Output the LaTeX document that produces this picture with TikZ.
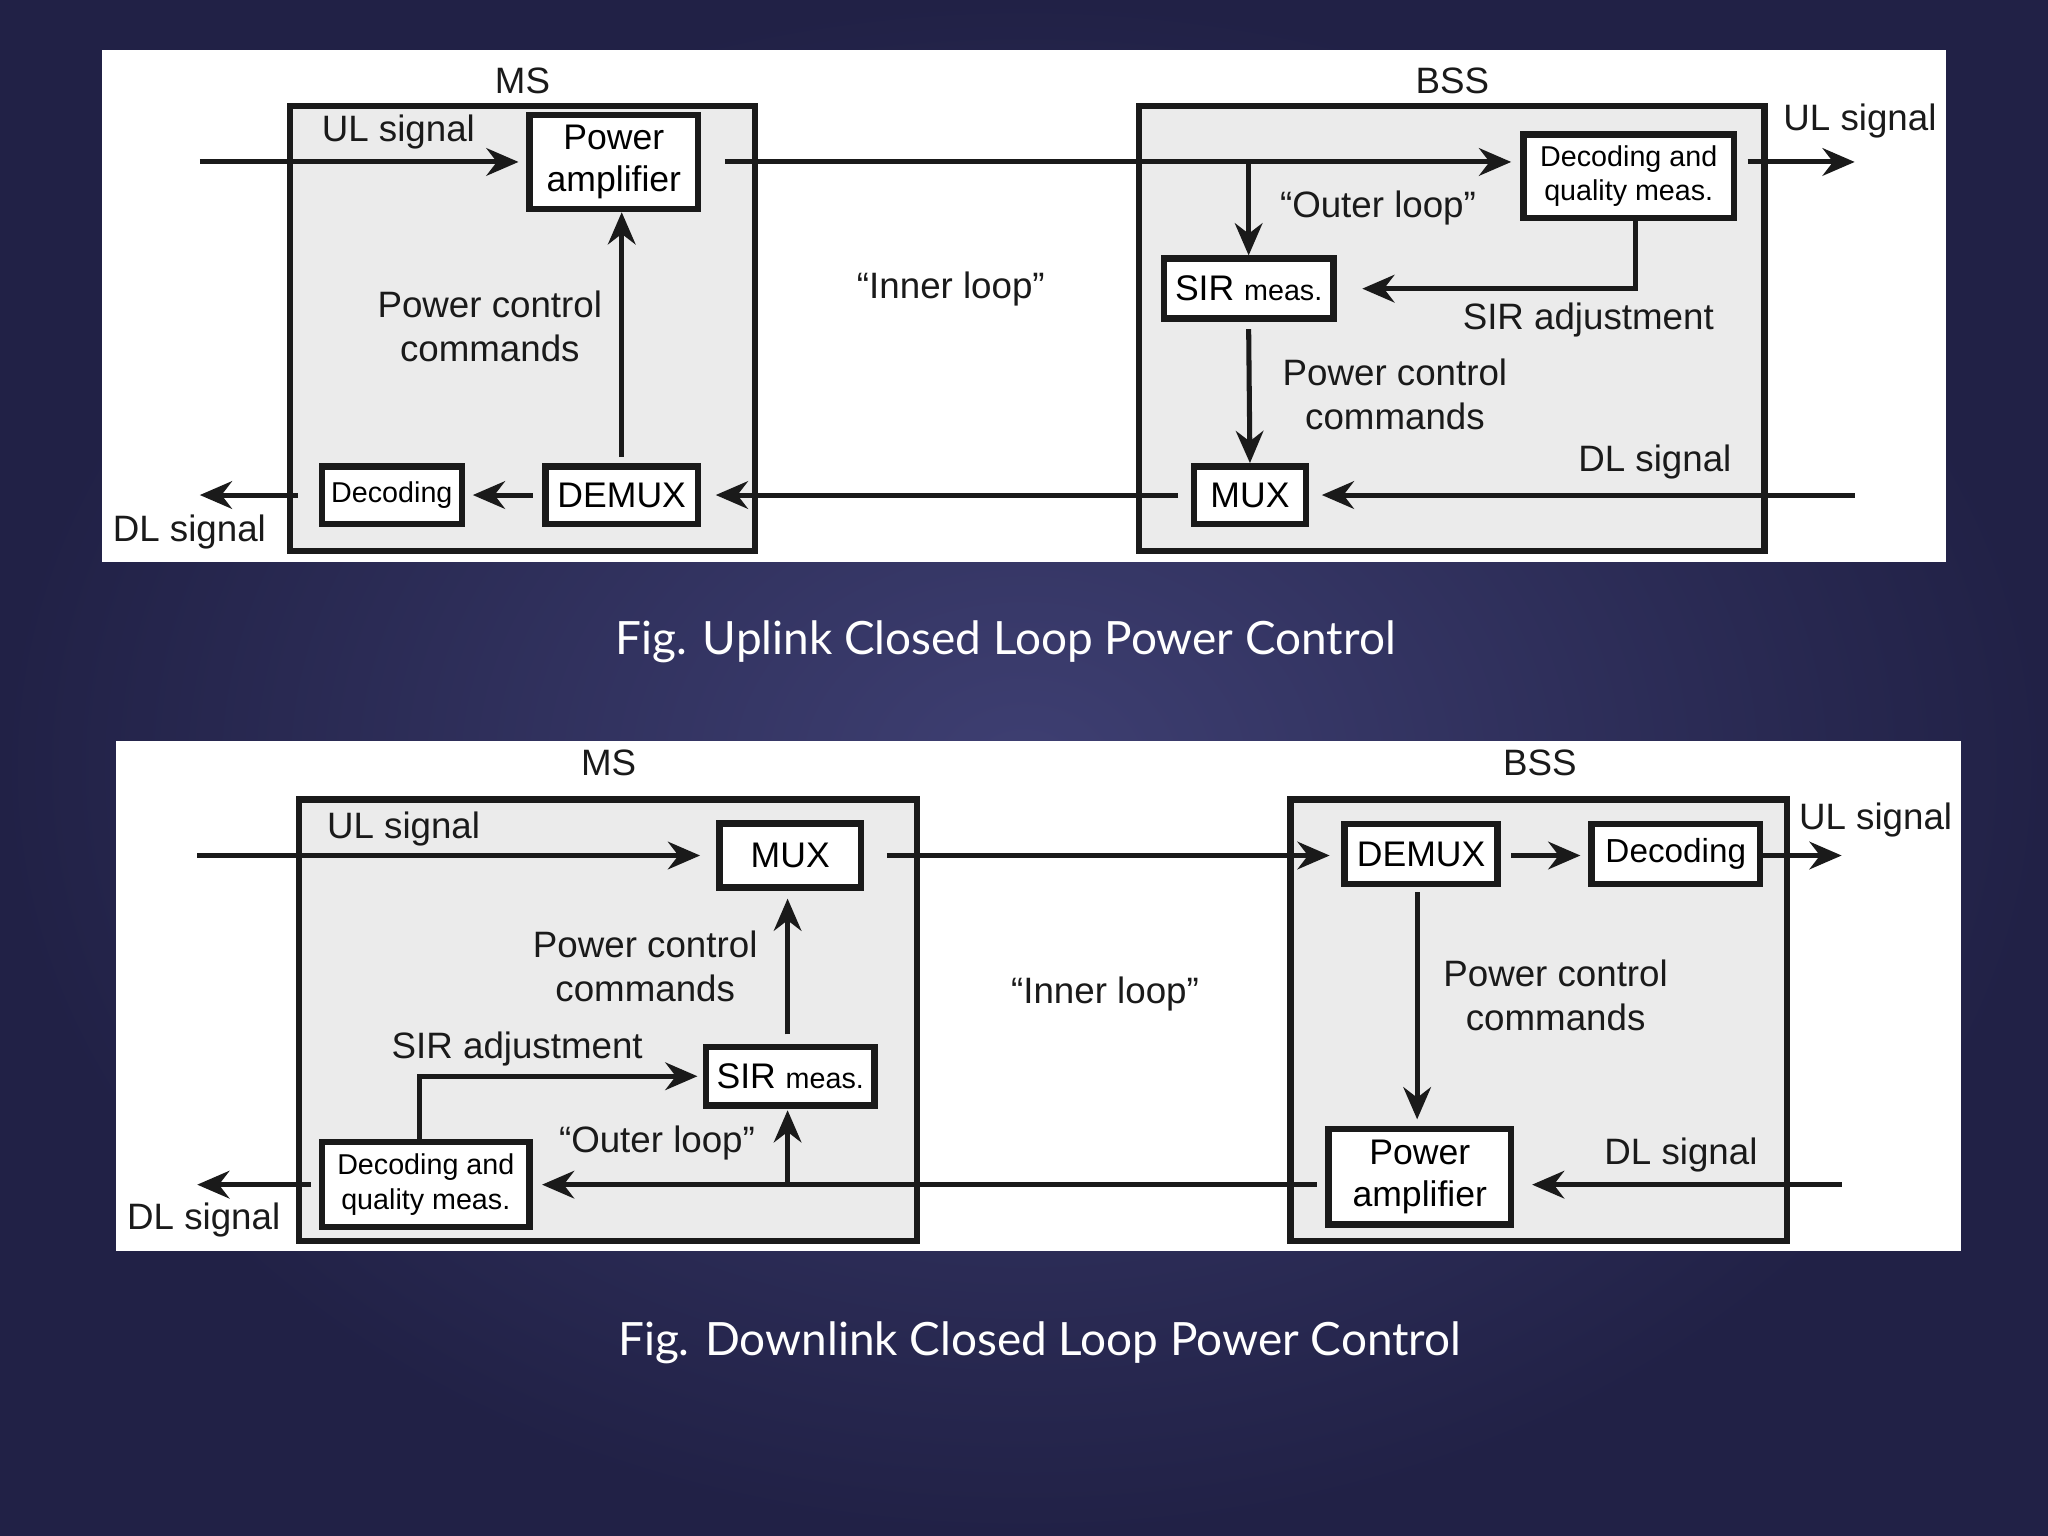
\documentclass[tikz,border=0pt]{standalone}
\usepackage{fontspec}
\setmainfont{Liberation Sans}
\newfontfamily\capfont{Lato}
\usetikzlibrary{arrows.meta,calc}
\definecolor{bgin}{HTML}{3E3F72}
\definecolor{bgout}{HTML}{212146}
\definecolor{boxgray}{HTML}{EBEBEB}
\definecolor{linec}{HTML}{1A1A1A}
\tikzset{
 ln/.style={line width=2.2pt,draw=linec},
 ar/.style={ln,-{Stealth[length=14pt,width=12pt]}},
 outer/.style={draw=linec,line width=2.8pt,fill=boxgray},
 blk/.style={draw=linec,line width=2.8pt,fill=white,inner sep=0pt,align=center,font=\fontsize{15.5}{18}\selectfont},
 sblk/.style={blk,font=\fontsize{12.5}{14}\selectfont},
 lbl/.style={align=center,font=\fontsize{16}{19}\selectfont,text=linec,inner sep=0pt},
 figcap/.style={font=\capfont\fontsize{20}{24}\selectfont,text=white},
}
\begin{document}
\begin{tikzpicture}[x=0.02cm,y=-0.02cm]
\useasboundingbox (0,0) rectangle (1568,1176);
\shade[inner color=bgin,outer color=bgout] (0,0) rectangle (1568,1176);
% ===== Top panel
\fill[white] (78,38) rectangle (1490,430);
\draw[outer] (222,81) rectangle (578,422);
\draw[outer] (872,81) rectangle (1351,422);
\node[lbl] (msT) at (400,62) {MS};
\node[lbl] (bssT) at (1112,62) {BSS};
\node[blk,minimum width=129*0.02cm,minimum height=72*0.02cm] (paT) at (470,124) {Power\\amplifier};
\node[sblk,minimum width=107*0.02cm,minimum height=44*0.02cm] (decT) at (300,379) {Decoding};
\node[blk,minimum width=117*0.02cm,minimum height=44*0.02cm] (demT) at (476,379) {DEMUX};
\node[sblk,minimum width=161*0.02cm,minimum height=64*0.02cm,font=\fontsize{12.5}{15}\selectfont] (dqT) at (1247,135) {Decoding and\\quality meas.};
\node[blk,minimum width=130*0.02cm,minimum height=46*0.02cm] (sirT) at (956,221) {SIR {\fontsize{12.5}{14}\selectfont meas.}};
\node[blk,minimum width=86*0.02cm,minimum height=44*0.02cm] (muxT) at (957,379) {MUX};
\coordinate (ulinT) at (153,124);
\coordinate (uloutT) at (1420,124);
\coordinate (brT) at (956,124);
\coordinate (cnT) at (1252,221);
\coordinate (dlinT) at (1420,379);
\coordinate (dloutT) at (153,379);
\coordinate (upT) at (476,350);
\draw[ar] (ulinT) -- (397,124);
\draw[ar] (555,124) -- (1157,124);
\draw[ar] (1338,124) -- (uloutT);
\draw[ar] (brT) -- (sirT.north);
\draw[ar] (dqT.south -| cnT) -- (cnT) -- (1043,221);
\draw[ar] (956,252) -- (muxT.north);
\draw[ar] (dlinT) -- (1012,379);
\draw[ar] (902,379) -- (548,379);
\draw[ar] (408,379) -- (362,379);
\draw[ar] (228,379) -- (dloutT);
\draw[ar] (upT) -- (upT |- paT.south);
\node[lbl] at (305,101) {UL signal};
\node[lbl] at (1424,93) {UL signal};
\node[lbl] at (1055,159) {“Outer loop”};
\node[lbl] at (1216,245) {SIR adjustment};
\node[lbl] at (1068,302) {Power control\\commands};
\node[lbl] at (1267,354) {DL signal};
\node[lbl] at (145,407) {DL signal};
\node[lbl] at (375,250) {Power control\\commands};
\node[lbl] at (728,221) {“Inner loop”};
\node[figcap] at (770,491) {Fig. Uplink Closed Loop Power Control};
% ===== Bottom panel
\fill[white] (89,567) rectangle (1501,958);
\draw[outer] (229,612) rectangle (702,950);
\draw[outer] (988,612) rectangle (1368,950);
\node[lbl] (msB) at (466,584) {MS};
\node[lbl] (bssB) at (1179,584) {BSS};
\node[blk,minimum width=108*0.02cm,minimum height=49*0.02cm] (muxB) at (605,655) {MUX};
\node[blk,minimum width=129*0.02cm,minimum height=45*0.02cm] (sirB) at (605,824) {SIR {\fontsize{12.5}{14}\selectfont meas.}};
\node[sblk,minimum width=159*0.02cm,minimum height=65*0.02cm,font=\fontsize{12.5}{15}\selectfont] (dqB) at (326,907) {Decoding and\\quality meas.};
\node[blk,minimum width=117*0.02cm,minimum height=46*0.02cm] (demB) at (1088,654) {DEMUX};
\node[blk,minimum width=129*0.02cm,minimum height=46*0.02cm,font=\fontsize{14.5}{17}\selectfont] (decB) at (1283,654) {Decoding};
\node[blk,minimum width=140*0.02cm,minimum height=73*0.02cm] (paB) at (1087,901) {Power\\amplifier};
\coordinate (ulinB) at (151,655);
\coordinate (uloutB) at (1410,655);
\coordinate (dlinB) at (1410,907);
\coordinate (dloutB) at (151,907);
\coordinate (brB) at (603,907);
\coordinate (cnB) at (321,824);
\draw[ar] (ulinB) -- (536,655);
\draw[ar] (679,655) -- (1018,655);
\draw[ar] (1157,655) -- (1210,655);
\draw[ar] (1347,655) -- (uloutB);
\draw[ar] (1085,683) -- (1085,857);
\draw[ar] (dlinB) -- (1173,907);
\draw[ar] (1008,907) -- (415,907);
\draw[ar] (brB) -- (603,850);
\draw[ar] (603,792) -- (603,688);
\draw[ar] (dqB.north -| cnB) -- (cnB) -- (534,824);
\draw[ar] (238,907) -- (dloutB);
\node[lbl] at (309,635) {UL signal};
\node[lbl] at (1436,628) {UL signal};
\node[lbl] at (1191,762) {Power control\\commands};
\node[lbl] at (1287,884) {DL signal};
\node[lbl] at (503,875) {“Outer loop”};
\node[lbl] at (494,740) {Power control\\commands};
\node[lbl] at (396,803) {SIR adjustment};
\node[lbl] at (156,934) {DL signal};
\node[lbl] at (846,761) {“Inner loop”};
\node[figcap] at (796,1028) {Fig. Downlink Closed Loop Power Control};
\end{tikzpicture}
\end{document}
